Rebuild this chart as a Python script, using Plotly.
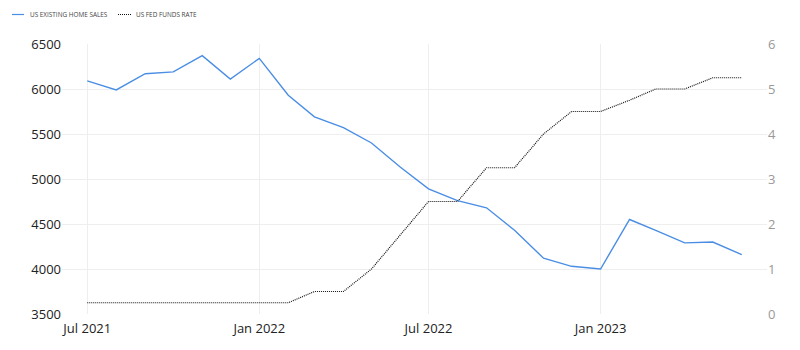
import plotly.graph_objects as go

months = ["2021-07-01","2021-08-01","2021-09-01","2021-10-01","2021-11-01","2021-12-01",
          "2022-01-01","2022-02-01","2022-03-01","2022-04-01","2022-05-01","2022-06-01",
          "2022-07-01","2022-08-01","2022-09-01","2022-10-01","2022-11-01","2022-12-01",
          "2023-01-01","2023-02-01","2023-03-01","2023-04-01","2023-05-01","2023-06-01"]
home_sales = [6090, 5990, 6170, 6190, 6370, 6110, 6340, 5930, 5690, 5570, 5400, 5130,
              4890, 4760, 4680, 4430, 4120, 4030, 4000, 4550, 4430, 4290, 4300, 4160]
fed_rate = [0.25, 0.25, 0.25, 0.25, 0.25, 0.25, 0.25, 0.25, 0.5, 0.5, 1.0, 1.75,
            2.5, 2.5, 3.25, 3.25, 4.0, 4.5, 4.5, 4.75, 5.0, 5.0, 5.25, 5.25]
x_ticks = ["2021-07-01", "2022-01-01", "2022-07-01", "2023-01-01"]
x_tick_labels = ["Jul 2021", "Jan 2022", "Jul 2022", "Jan 2023"]
left_ticks = [3500, 4000, 4500, 5000, 5500, 6000, 6500]
right_ticks = [0, 1, 2, 3, 4, 5, 6]
series_names = ["US EXISTING HOME SALES", "US FED FUNDS RATE"]

FONT = "Open Sans, Noto Sans, sans-serif"
BLUE = "#4a8ee4"
BLACK = "#111111"
DOT = "1px,1px"

L, R, T, B = 62, 33, 44, 36
W, H = 800, 350
PW, PH = W - L - R, H - T - B


def px_x(px):
    return (px - L) / PW


def px_y(py):
    return (H - B - py) / PH


fig = go.Figure()
fig.add_trace(go.Scatter(x=months, y=home_sales, name=series_names[0],
                         mode="lines", line=dict(color=BLUE, width=1.4), yaxis="y"))
fig.add_trace(go.Scatter(x=months, y=fed_rate, name=series_names[1],
                         mode="lines", line=dict(color=BLACK, width=1.2, dash=DOT), yaxis="y2"))

# custom legend (small swatches like the reference)
legend_items = [(12, 24, 28, BLUE, "solid", series_names[0]),
                (118, 131, 134, BLACK, DOT, series_names[1])]
for x0, x1, tx, col, dash, name in legend_items:
    fig.add_shape(type="line", xref="paper", yref="paper",
                  x0=px_x(x0), x1=px_x(x1), y0=px_y(14.5), y1=px_y(14.5),
                  line=dict(color=col, width=1.2, dash=dash))
    fig.add_annotation(xref="paper", yref="paper", x=px_x(tx), y=px_y(14.5),
                       xanchor="left", yanchor="middle", showarrow=False,
                       text=name, font=dict(size=6.4, color="#444", family=FONT))

fig.update_layout(
    width=W, height=H,
    margin=dict(l=L, r=R, t=T, b=B, autoexpand=False),
    plot_bgcolor="white", paper_bgcolor="white",
    font=dict(family=FONT, color="#333"),
    showlegend=False,
    xaxis=dict(type="date", range=["2021-06-04", "2023-06-28"],
               tickvals=x_ticks, ticktext=x_tick_labels,
               showgrid=True, gridcolor="#eeeeee", gridwidth=1,
               zeroline=False, showline=False, ticks="", ticklabelstandoff=5,
               tickfont=dict(size=13, color="#222")),
    yaxis=dict(range=[3500, 6500], tickvals=left_ticks,
               showgrid=True, gridcolor="#eeeeee", zeroline=False, showline=False,
               ticks="", tickfont=dict(size=13, color="#222")),
    yaxis2=dict(range=[0, 6], tickvals=right_ticks, overlaying="y", side="right",
                showgrid=False, zeroline=False, showline=False, ticks="",
                tickfont=dict(size=13, color="#999")),
)

fig.write_html("out.html")
